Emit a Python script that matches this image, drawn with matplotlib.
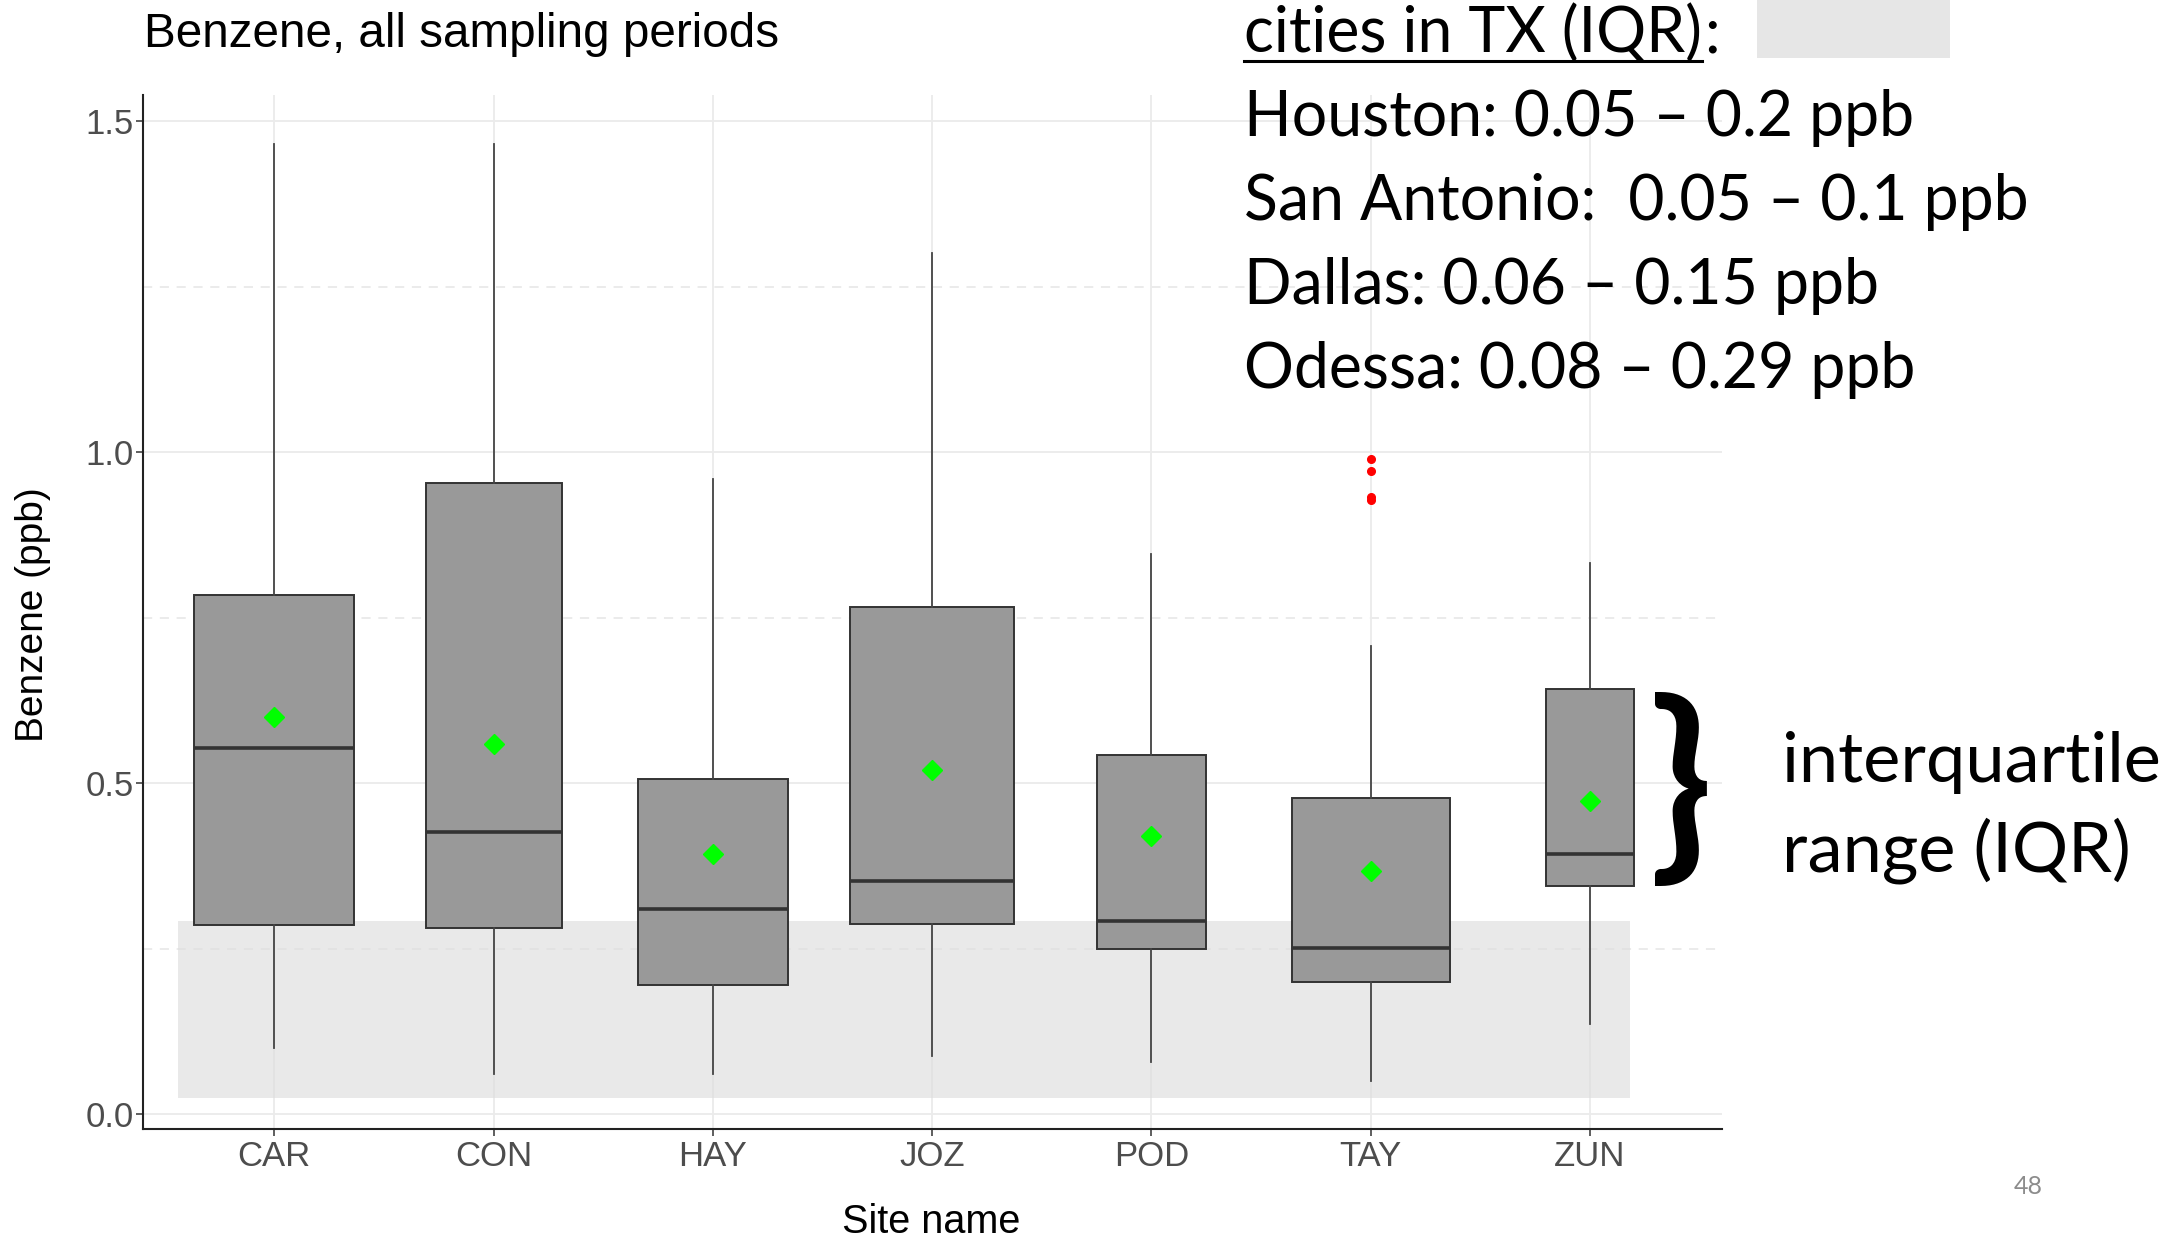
import matplotlib
matplotlib.use("Agg")
import matplotlib.pyplot as plt
from matplotlib.lines import Line2D
from matplotlib.patches import Rectangle

# Benzene box stats per site (ppb)
sites = ["CAR", "CON", "HAY", "JOZ", "POD", "TAY", "ZUN"]
whisk_lo = [0.101, 0.061, 0.061, 0.088, 0.080, 0.050, 0.137]
q1 = [0.286, 0.282, 0.196, 0.288, 0.250, 0.200, 0.345]
median = [0.553, 0.427, 0.311, 0.353, 0.292, 0.252, 0.393]
q3 = [0.785, 0.953, 0.507, 0.766, 0.543, 0.478, 0.642]
whisk_hi = [1.466, 1.466, 0.959, 1.300, 0.846, 0.707, 0.833]
means = [0.600, 0.560, 0.393, 0.520, 0.421, 0.368, 0.473]
outliers = [[], [], [], [], [], [0.990, 0.972, 0.932, 0.928], []]
# varwidth boxes (relative widths)
box_widths = [0.73, 0.62, 0.685, 0.75, 0.495, 0.72, 0.40]

# typical IQR band for TX cities
tx_band = (0.025, 0.292)
city_lines = ["Houston: 0.05 \u2013 0.2 ppb",
              "San Antonio:  0.05 \u2013 0.1 ppb",
              "Dallas: 0.06 \u2013 0.15 ppb",
              "Odessa: 0.08 \u2013 0.29 ppb"]

W, H = 2184, 1237


def fx(x):
    return x / W


def fy(y):
    return 1 - y / H


fig = plt.figure(figsize=(W / 100, H / 100), dpi=100)
ax = fig.add_axes([fx(142.7), fy(1128.8), fx(1721.6) - fx(142.7), fy(95.4) - fy(1128.8)])

stats = []
for i, s in enumerate(sites):
    stats.append(dict(label=s, whislo=whisk_lo[i], q1=q1[i], med=median[i], q3=q3[i],
                      whishi=whisk_hi[i], mean=means[i], fliers=outliers[i]))

pos = list(range(1, len(sites) + 1))
ax.bxp(stats, positions=pos, widths=box_widths, patch_artist=True, showcaps=False,
       showmeans=True,
       boxprops=dict(facecolor="#999999", edgecolor="#333333", linewidth=1.4),
       medianprops=dict(color="#333333", linewidth=2.6),
       whiskerprops=dict(color="#444444", linewidth=1.3),
       flierprops=dict(marker="o", markerfacecolor="red", markeredgecolor="red", markersize=5.5),
       meanprops=dict(marker="D", markerfacecolor="#00ff00", markeredgecolor="#00ff00", markersize=10.5),
       zorder=3)

# shaded band
ax.add_patch(Rectangle((0.561, tx_band[0]), 7.184 - 0.561, tx_band[1] - tx_band[0],
                       facecolor="#dedede", alpha=0.65, edgecolor="none", zorder=2))

ax.set_xlim(0.4, 7.6)
ax.set_ylim(-0.0216, 1.5387)
ax.set_yticks([0.0, 0.5, 1.0, 1.5])
ax.set_yticklabels(["0.0", "0.5", "1.0", "1.5"])
ax.set_xticks(pos)
ax.set_xticklabels(sites)

ax.set_axisbelow(True)
for v in [0.0, 0.5, 1.0, 1.5]:
    ax.axhline(v, color="#ebebeb", lw=1.3, zorder=0)
for v in [0.25, 0.75, 1.25]:
    ax.axhline(v, color="#e6e6e6", lw=1.1, ls=(0, (6, 5)), zorder=0)
for p in pos:
    ax.axvline(p, color="#ebebeb", lw=1.3, zorder=0)

for sp in ["top", "right"]:
    ax.spines[sp].set_visible(False)
for sp in ["left", "bottom"]:
    ax.spines[sp].set_color("#222222")
    ax.spines[sp].set_linewidth(1.5)

ax.tick_params(axis="both", colors="#333333", length=5, width=1.1, labelsize=25,
               labelcolor="#4d4d4d")
ax.tick_params(axis="y", pad=1.5)
ax.tick_params(axis="x", pad=3)
for t in ax.get_xticklabels() + ax.get_yticklabels():
    t.set_family("Liberation Sans")

fig.text(fx(144), fy(46.7), "Benzene, all sampling periods", family="Liberation Sans",
         fontsize=34.3, ha="left", va="baseline", color="black")
fig.text(fx(33), fy(614.5), "Benzene (ppb)", family="Liberation Sans", fontsize=28,
         rotation=90, ha="center", va="center")
fig.text(fx(931), fy(1233), "Site name", family="Liberation Sans", fontsize=28.5,
         ha="center", va="baseline")

# right-hand notes
fig.text(fx(1244), fy(52.5), "cities in TX (IQR)", family="Lato", fontsize=45,
         ha="left", va="baseline")
fig.text(fx(1704), fy(52.5), ":", family="Lato", fontsize=45, ha="left", va="baseline")
fig.add_artist(Line2D([fx(1244), fx(1702)], [fy(61), fy(61)], color="black", lw=2.2,
                      transform=fig.transFigure))
fig.add_artist(Rectangle((fx(1757), fy(58)), fx(1950) - fx(1757), fy(0) - fy(58),
                         facecolor="#e6e6e6", edgecolor="none", transform=fig.transFigure))
for i, line in enumerate(city_lines):
    fig.text(fx(1244), fy(136 + 84 * i), line, family="Lato", fontsize=45,
             ha="left", va="baseline")

fig.text(fx(1681), fy(792), "}", family="Lato", fontsize=150, fontweight="bold",
         ha="center", va="center")
fig.text(fx(1782), fy(782), "interquartile", family="Lato", fontsize=50.6,
         ha="left", va="baseline")
fig.text(fx(1782), fy(872), "range (IQR)", family="Lato", fontsize=50.6,
         ha="left", va="baseline")
fig.text(fx(2028), fy(1187), "48", family="Lato", fontsize=18, color="#8c8c8c",
         ha="center", va="center")

fig.savefig("out.png", dpi=100, facecolor="white")
